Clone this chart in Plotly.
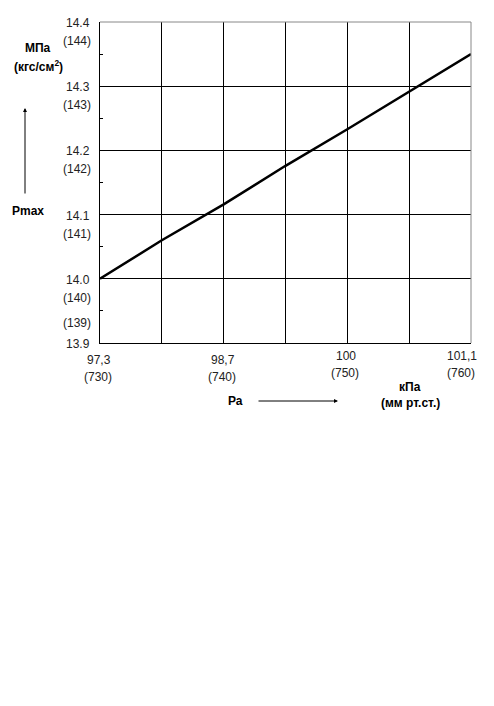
import plotly.graph_objects as go

# Data
pa_mmhg = [730, 735, 740, 745, 750, 755, 760]
pmax_mpa = [14.0, 14.06, 14.116, 14.176, 14.233, 14.292, 14.35]

x_tick_vals = [730, 740, 750, 760]
x_tick_kpa = ["97,3", "98,7", "100", "101,1"]
x_tick_mmhg = ["(730)", "(740)", "(750)", "(760)"]

y_tick_vals = [13.9, 14.0, 14.1, 14.2, 14.3, 14.4]
y_tick_mpa = ["13.9", "14.0", "14.1", "14.2", "14.3", "14.4"]
y_tick_kgf = ["(139)", "(140)", "(141)", "(142)", "(143)", "(144)"]

FONT = "Liberation Sans, Arial, sans-serif"
OFF = 8  # default body margin of the page
W, H = 494 - 2 * OFF, 706 - 2 * OFF
# target plot area in page pixels: x 100..471, y 22..343
L, T = 100 - OFF, 22 - OFF
R = W - (471 - OFF)
B = H - (343 - OFF)

fig = go.Figure()
fig.add_trace(go.Scatter(x=pa_mmhg, y=pmax_mpa, mode="lines",
                         line=dict(color="black", width=2.5), showlegend=False,
                         hoverinfo="skip"))

TF = dict(size=12, color="#222", family=FONT)
ann = []
# Y tick labels
for v, a, b in zip(y_tick_vals, y_tick_mpa, y_tick_kgf):
    ann.append(dict(x=0, xref="paper", y=v, yref="y", text=a, showarrow=False,
                    xanchor="right", yanchor="middle", xshift=-8, yshift=-1,
                    font=TF))
    shift = 20 if v == y_tick_vals[0] else -19
    ann.append(dict(x=0, xref="paper", y=v, yref="y", text=b, showarrow=False,
                    xanchor="right", yanchor="middle", xshift=-7, yshift=shift,
                    font=TF))
# X tick labels
for i, (v, a, b) in enumerate(zip(x_tick_vals, x_tick_kpa, x_tick_mmhg)):
    base = -17 if i < 2 else -13
    xs = -9 if i == len(x_tick_vals) - 1 else -1
    ann.append(dict(x=v, xref="x", y=0, yref="paper", text=a, showarrow=False,
                    xanchor="center", yanchor="middle", yshift=base, xshift=xs,
                    font=TF))
    ann.append(dict(x=v, xref="x", y=0, yref="paper", text=b, showarrow=False,
                    xanchor="center", yanchor="middle", yshift=base - 17, xshift=xs - 1,
                    font=TF))

# Axis titles placed in page-pixel coordinates (converted to paper)
pw, ph = W - L - R, H - T - B
def to_paper(xp, yp):
    xp, yp = xp - OFF, yp - OFF
    return (xp - L) / pw, 1 - (yp - T) / ph

labels = [
    (38, 48, "<b>МПа</b>"),
    (38, 66, "<b>(кгс/см<sup>2</sup>)</b>"),
    (28, 211, "<b>Pmax</b>"),
    (235, 401, "<b>Ра</b>"),
    (410, 387, "<b>кПа</b>"),
    (410, 403, "<b>(мм рт.ст.)</b>"),
]
for xp, yp, t in labels:
    xx, yy = to_paper(xp, yp)
    ann.append(dict(x=xx, xref="paper", y=yy, yref="paper", text=t, showarrow=False,
                    xanchor="center", yanchor="middle",
                    font=dict(size=12, color="black", family=FONT)))

# arrows
ax1, ay1 = to_paper(25, 108)
ann.append(dict(x=ax1, y=ay1, xref="paper", yref="paper",
                ax=0, ay=87, axref="pixel", ayref="pixel",
                showarrow=True, arrowhead=2, arrowsize=0.8, arrowwidth=1,
                arrowcolor="black", text=""))
bx1, by1 = to_paper(338, 401)
ann.append(dict(x=bx1, y=by1, xref="paper", yref="paper",
                ax=-81, ay=0, axref="pixel", ayref="pixel",
                showarrow=True, arrowhead=2, arrowsize=0.8, arrowwidth=1,
                arrowcolor="black", text=""))

shapes = [
    dict(type="line", xref="paper", yref="paper", x0=0, x1=1, y0=1, y1=1,
         line=dict(color="#888", width=1)),
    dict(type="line", xref="paper", yref="paper", x0=1, x1=1, y0=0, y1=1,
         line=dict(color="#888", width=1)),
]

fig.update_layout(
    width=W, height=H,
    margin=dict(l=L, r=R, t=T, b=B, pad=0),
    paper_bgcolor="white", plot_bgcolor="white",
    annotations=ann, shapes=shapes,
    font=dict(family=FONT),
    xaxis=dict(range=[730, 760], dtick=5, tick0=730, showgrid=True,
               gridcolor="black", gridwidth=1, showline=True, linecolor="black",
               linewidth=1, showticklabels=False, ticks="", zeroline=False,
               fixedrange=True),
    yaxis=dict(range=[13.9, 14.4], dtick=0.1, tick0=13.9, showgrid=True,
               gridcolor="black", gridwidth=1, showline=True, linecolor="black",
               linewidth=1, showticklabels=False, ticks="", zeroline=False,
               minor=dict(dtick=0.05, tick0=13.95, ticks="inside", ticklen=3,
                          tickcolor="black", showgrid=False),
               fixedrange=True),
)

fig.write_html("out.html", config={"displayModeBar": False})
